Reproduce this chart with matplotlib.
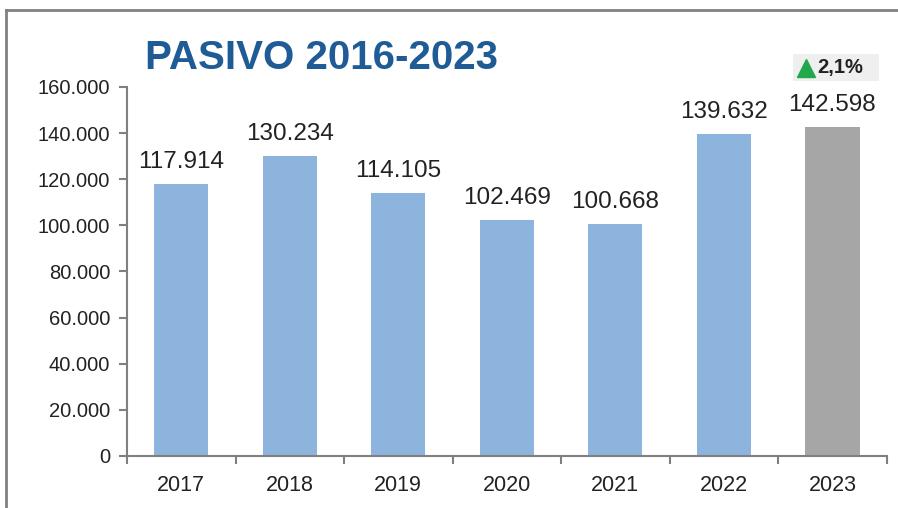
import matplotlib
matplotlib.use("Agg")
import matplotlib.pyplot as plt
from matplotlib.ticker import FuncFormatter, FixedLocator
from matplotlib.lines import Line2D
from matplotlib.patches import Rectangle

years = ["2017", "2018", "2019", "2020", "2021", "2022", "2023"]
values = [117914, 130234, 114105, 102469, 100668, 139632, 142598]
colors = ["#8DB4DC"] * 6 + ["#A6A6A6"]
title = "PASIVO 2016-2023"
badge = "2,1%"

plt.rcParams['font.family'] = ['Liberation Sans', 'DejaVu Sans']

fig = plt.figure(figsize=(8.98, 5.08), dpi=100)
fig.patch.set_facecolor("white")
ax = fig.add_axes([0.1414, 0.1024, 0.846, 0.7264])

x = list(range(len(years)))
ax.bar(x, values, width=0.5, color=colors, zorder=2)
ax.set_xlim(-0.5, len(years) - 0.5)
ax.set_ylim(0, 160000)

def fmt(v):
    return f"{int(round(v)):,}".replace(",", ".")

for xi, v in zip(x, values):
    ax.annotate(fmt(v), (xi, v), xytext=(0, 8), textcoords="offset points",
                ha="center", va="bottom", fontsize=17.5, color="#222222")

ax.yaxis.set_major_locator(FixedLocator(range(0, 160001, 20000)))
ax.yaxis.set_major_formatter(FuncFormatter(lambda v, p: fmt(v)))
ax.set_xticks(x)
ax.set_xticklabels(years)
ax.set_xticks([i + 0.5 for i in range(-1, len(years))], minor=True)
ax.tick_params(axis="x", which="major", length=0, pad=14, labelsize=15.5, colors="#222222")
ax.tick_params(axis="x", which="minor", length=6, width=1.5, direction="out", color="#808080")
ax.tick_params(axis="y", which="major", length=6, width=1.5, direction="out", color="#808080",
               labelsize=14.5, labelcolor="#222222", pad=6)

for s in ["top", "right"]:
    ax.spines[s].set_visible(False)
for s in ["left", "bottom"]:
    ax.spines[s].set_color("#808080")
    ax.spines[s].set_linewidth(1.5)

# outer frame (left and top edges)
fig.add_artist(Line2D([6/898, 6/898], [0, 1 - 10/508], color="#808080", lw=2, transform=fig.transFigure))
fig.add_artist(Line2D([6/898, 1], [1 - 10/508, 1 - 10/508], color="#808080", lw=2, transform=fig.transFigure))

fig.text(145/898, 1 - 58/508, title, fontsize=29, fontweight="bold", color="#1F5C96",
         ha="left", va="center")

# badge
fig.add_artist(Rectangle((793/898, 1 - 81/508), 86/898, 27/508, transform=fig.transFigure,
                         facecolor="#EFEFEF", edgecolor="none"))
fig.add_artist(Line2D([806/898], [1 - 68/508], marker="^", markersize=13, color="#21A84B",
                      linestyle="none", transform=fig.transFigure))
fig.text(817/898, 1 - 68/508, badge, fontsize=14.5, fontweight="bold", color="#222222",
         ha="left", va="center")

fig.savefig("out.png", dpi=100)
